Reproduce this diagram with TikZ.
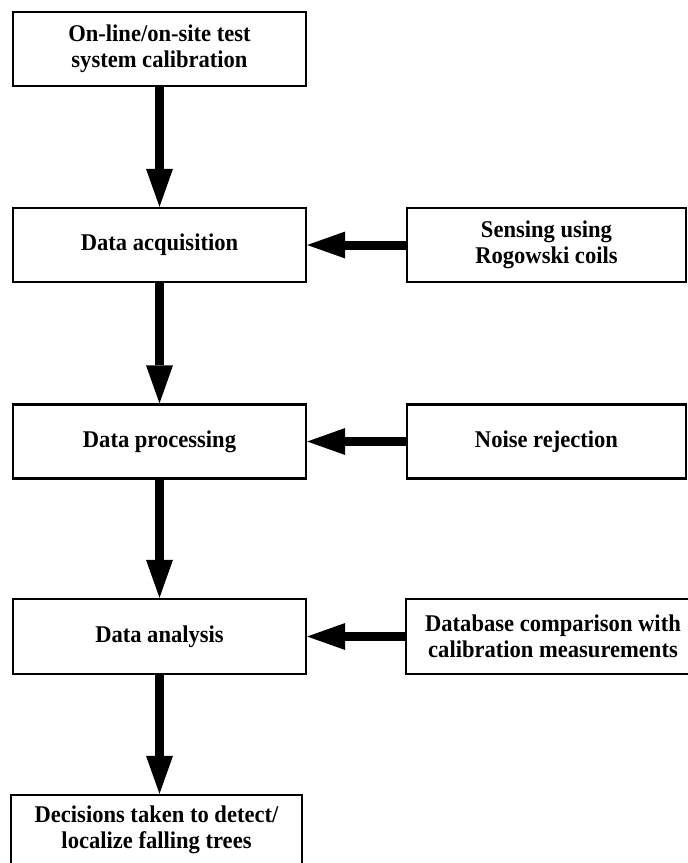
\documentclass[tikz,border=0pt]{standalone}
\usepackage{fontspec}
\setmainfont{Liberation Serif}[FakeStretch=0.94]
\usetikzlibrary{arrows.meta}
\begin{document}
\begin{tikzpicture}[x=1pt,y=-1pt,
  box/.style={draw, line width=2.4pt, inner sep=0pt, align=center,
    minimum height=74pt, font=\fontsize{24}{25.5}\selectfont\bfseries},
  lbox/.style={box, minimum width=293pt},
  rbox/.style={box, minimum width=279pt},
  arr/.style={line width=9pt, -{Triangle[width=27pt,length=38pt,line width=0pt]}}]
\useasboundingbox (0,0) rectangle (688,863);
\node[lbox] (b1) at (159.5,49) {On-line/on-site test\\system calibration};
\node[lbox] (b2) at (159.5,245) {Data acquisition};
\node[lbox] (b3) at (159.5,441.5) {Data processing};
\node[lbox, minimum height=75pt] (b4) at (159.5,636.5) {Data analysis};
\node[box, minimum width=291pt, minimum height=70pt] (b5) at (156.5,830) {Decisions taken to detect/\\localize falling trees};
\node[rbox] (r2) at (546.5,245) {Sensing using\\Rogowski coils};
\node[rbox] (r3) at (546.5,441.5) {Noise rejection};
\node[box, minimum width=294pt, minimum height=75pt] (r4) at (553,636.5) {Database comparison with\\calibration measurements};
\draw[arr] (b1.south) -- (b2.north);
\draw[arr] (b2.south) -- (b3.north);
\draw[arr] (b3.south) -- (b4.north);
\draw[arr] (b4.south) -- (b4.south |- b5.north);
\draw[arr] (r2.west) -- (b2.east);
\draw[arr] (r3.west) -- (b3.east);
\draw[arr] (r4.west) -- (b4.east);
\end{tikzpicture}
\end{document}
